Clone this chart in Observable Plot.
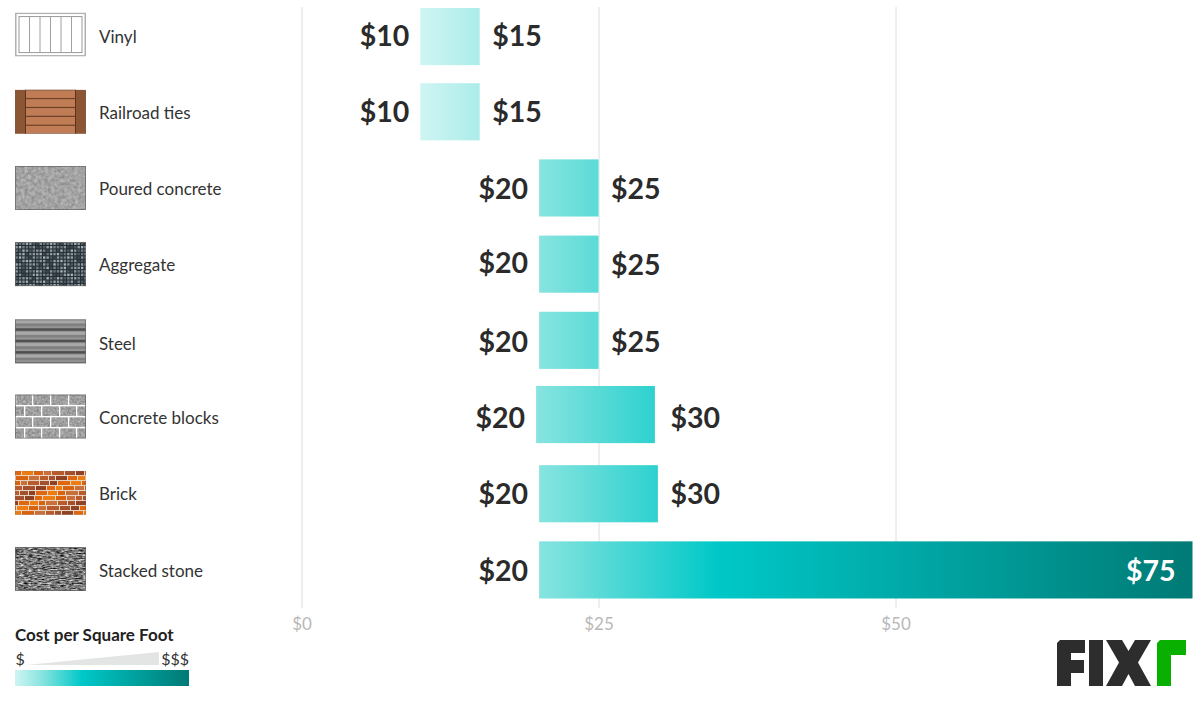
<!DOCTYPE html>
<html>
<head>
<meta charset="utf-8">
<script src="https://cdn.jsdelivr.net/npm/d3@7"></script>
<script src="https://cdn.jsdelivr.net/npm/@observablehq/plot@0.6"></script>
<style>
html,body{margin:0;padding:0;background:#fff;}
svg{display:block;}
</style>
</head>
<body>
<div id="chart"></div>
<script>
const categories = ["Vinyl","Railroad ties","Poured concrete","Aggregate","Steel","Concrete blocks","Brick","Stacked stone"];
const lowCosts  = [10,10,20,20,20,20,20,20];
const highCosts = [15,15,25,25,25,30,30,75];
const tickValues = [0,25,50];
const gradientValues = [10,20,35,75];
const gradientColors = ["#cff5f3","#88e4df","#00c8c8","#007a75"];
const legendTitle = "Cost per Square Foot";
const legendLow = "$";
const legendHigh = "$$$";

const rows = categories.map((name,i)=>({name,low:lowCosts[i],high:highCosts[i]}));
const money = d=>"$"+d;
const ink = "#2b2b2b";
// the reference's items sit slightly off an even grid
const barShiftX = [0,0,0,0,0,-3,0,0];
const barShiftY = [0,-1,-1,-1,-1,-3,0,0];
const nameShiftY = [0,0,0,0,3,1,0,1];
const lowShiftY = [0,0,0,-2,1,1,1,1];
const highShiftY = [0,0,0,0,1,1,1,1];
const valueFont = {fontSize:28.5,fontWeight:700,lineAnchor:"middle"};

const plot = Plot.plot({
  width:1200, height:701,
  marginLeft:0, marginRight:0, marginTop:7, marginBottom:93,
  style:{fontFamily:"Lato, sans-serif", background:"#fff"},
  x:{domain:[0,75], range:[301.5,1192.5]},
  y:{type:"band", domain:categories, range:[8,598.5], paddingInner:0.25, paddingOuter:0, round:false},
  marks:[
    Plot.ruleX(tickValues,{stroke:"#dedede",strokeWidth:1}),
    ...rows.map((r,i)=>Plot.barX([r],{x1:"low",x2:"high",y:"name",fill:"url(#barGradient)",dx:barShiftX[i],dy:barShiftY[i]})),
    Plot.axisX({ticks:tickValues,tickFormat:money,tickSize:0,tickPadding:9,label:null,fontSize:17,color:"#b8b8b8"}),
    Plot.axisY({ticks:[],label:null,tickSize:0}),
    ...rows.flatMap((r,i)=>[
      Plot.text([r],{y:"name",text:"name",frameAnchor:"left",textAnchor:"start",dx:98.5,dy:nameShiftY[i],fontSize:17,fill:"#333",lineAnchor:"middle"}),
      Plot.text([r],{x:"low",y:"name",text:d=>money(d.low),textAnchor:"end",dx:-11.5+barShiftX[i],dy:lowShiftY[i],fill:ink,...valueFont}),
      r.high<75
        ? Plot.text([r],{x:"high",y:"name",text:d=>money(d.high),textAnchor:"start",dx:12,dy:highShiftY[i],fill:ink,...valueFont})
        : Plot.text([r],{x:"high",y:"name",text:d=>money(d.high),textAnchor:"end",dx:-17.5,dy:highShiftY[i],fill:"#fff",...valueFont})
    ])
  ]
});
document.getElementById("chart").append(plot);

const svg = d3.select(plot);
const xs = plot.scale("x"), ys = plot.scale("y");
const defs = svg.insert("defs",":first-child");

// Gradient running along the x scale, shared by all the bars
const span = gradientValues[gradientValues.length-1]-gradientValues[0];
function addStops(g){
  gradientValues.forEach((v,i)=>g.append("stop").attr("offset",(v-gradientValues[0])/span).attr("stop-color",gradientColors[i]));
}
addStops(defs.append("linearGradient").attr("id","barGradient").attr("gradientUnits","userSpaceOnUse")
  .attr("x1",xs.apply(gradientValues[0])).attr("x2",xs.apply(75)).attr("y1",0).attr("y2",0));
addStops(defs.append("linearGradient").attr("id","legendGradient"));

function noise(id,freq,k,base,octaves){
  const f = defs.append("filter").attr("id",id).attr("x",0).attr("y",0).attr("width","100%").attr("height","100%").attr("color-interpolation-filters","sRGB");
  f.append("feTurbulence").attr("type","fractalNoise").attr("baseFrequency",freq).attr("numOctaves",octaves).attr("seed",4);
  const o = base-k/2;
  f.append("feColorMatrix").attr("type","matrix").attr("values",`${k} 0 0 0 ${o} ${k} 0 0 0 ${o} ${k} 0 0 0 ${o} 0 0 0 0 1`);
}
noise("nConcrete","0.3",0.3,0.64,4);
noise("nBlock","0.45",0.35,0.62,3);
noise("nStone","0.22 0.8",1.25,0.47,3);

const W=71,H=44;
const painters = [
  s=>{ // vinyl
    s.append("rect").attr("x",0.75).attr("y",0.75).attr("width",W-1.5).attr("height",H-1.5).attr("fill","#fff").attr("stroke","#b0b0b0").attr("stroke-width",1.5);
    s.append("rect").attr("x",4).attr("y",4).attr("width",W-8).attr("height",H-8).attr("fill","none").attr("stroke","#999");
    d3.range(1,6).forEach(i=>s.append("line").attr("x1",4+i*10.5).attr("x2",4+i*10.5).attr("y1",4).attr("y2",H-4).attr("stroke","#a0a0a0"));
  },
  s=>{ // railroad ties
    s.append("rect").attr("width",W).attr("height",H).attr("fill","#c07c55");
    d3.range(0,6).forEach(i=>s.append("rect").attr("x",10).attr("width",51).attr("y",i*8.9-0.7).attr("height",1.2).attr("fill","#6e4228"));
    [[0,11],[60,11]].forEach(([x,w])=>{
      s.append("rect").attr("x",x).attr("width",w).attr("height",H).attr("fill","#8c5634");
      s.append("rect").attr("x",x===0?10:60).attr("width",1).attr("height",H).attr("fill","#5c3520");
    });
  },
  s=>{ s.append("rect").attr("width",W).attr("height",H).attr("fill","#aaa").attr("filter","url(#nConcrete)"); },
  s=>{ // aggregate
    s.append("rect").attr("width",W).attr("height",H).attr("fill","#262e33");
    const tones=["#87949c","#4d5a62","#a2afb5","#66747c","#3c474e","#8f9ca3","#72808a"];
    for(let r=0;r<13;r++)for(let c=0;c<21;c++)
      s.append("rect").attr("x",c*3.45+0.4).attr("y",r*3.45+0.4).attr("width",2.4).attr("height",2.4).attr("fill",tones[(r*5+c*3+(r*c)%4)%7]);
  },
  s=>{ // steel
    s.append("rect").attr("width",W).attr("height",H).attr("fill","#8b8b8b");
    d3.range(0,4).forEach(i=>{
      const y=i*11.4;
      s.append("rect").attr("y",y+1).attr("width",W).attr("height",3.2).attr("fill","#a8a8a8");
      s.append("rect").attr("y",y+4.2).attr("width",W).attr("height",2.6).attr("fill","#808080");
      s.append("rect").attr("y",y+6.8).attr("width",W).attr("height",2.2).attr("fill","#939393");
      s.append("rect").attr("y",y+9).attr("width",W).attr("height",2.4).attr("fill","#4f4f4f");
    });
  },
  s=>{ // concrete blocks
    s.append("rect").attr("width",W).attr("height",H).attr("fill","#a8a8a8").attr("filter","url(#nBlock)");
    [11,22,33].forEach(y=>s.append("rect").attr("y",y-0.6).attr("width",W).attr("height",1.4).attr("fill","#fff"));
    [0,1,2,3].forEach(r=>{
      const xs0 = r%2 ? [9,26,44,61] : [17,35,53,0];
      xs0.forEach(x=>s.append("rect").attr("x",x).attr("y",r*11).attr("width",1.3).attr("height",11).attr("fill","#fff"));
    });
  },
  s=>{ // brick
    s.append("rect").attr("width",W).attr("height",H).attr("fill","#e9d8c6");
    const tones=["#e0660f","#a4502e","#c9703a","#ed7d12","#8f4223","#b85a2c","#d9620f"];
    for(let r=0;r<9;r++){
      let x=-((r*7)%11), n=r*3;
      while(x<W){
        const w=6+(n*5)%7;
        s.append("rect").attr("x",x).attr("y",r*5+0.3).attr("width",w).attr("height",4).attr("fill",tones[(n*3+r)%7]);
        x+=w+1; n++;
      }
    }
  },
  s=>{ s.append("rect").attr("width",W).attr("height",H).attr("fill","#777").attr("filter","url(#nStone)"); }
];
const swatchOffset = [-1,0,0,0,1,0,0,0];
categories.forEach((c,i)=>{
  const cy = ys.apply(c)+ys.bandwidth/2 + swatchOffset[i];
  const s = svg.append("svg").attr("x",15).attr("y",cy-1-H/2).attr("width",W).attr("height",H).attr("viewBox",`0 0 ${W} ${H}`).attr("aria-label",c+" swatch");
  painters[i](s);
  if(i!==0) s.append("rect").attr("x",0.4).attr("y",0.4).attr("width",W-0.8).attr("height",H-0.8).attr("fill","none").attr("stroke","#666").attr("stroke-width",0.8).attr("opacity",i===1||i===6?0.3:0.9);
});

// Legend
const leg = svg.append("g").attr("font-family","Lato, sans-serif").attr("text-anchor","start");
leg.append("text").attr("x",15).attr("y",641).attr("font-size",17).attr("font-weight",700).attr("fill","#222").text(legendTitle);
leg.append("text").attr("x",15.5).attr("y",665).attr("font-size",16).attr("fill","#333").text(legendLow);
leg.append("text").attr("x",189).attr("y",665).attr("font-size",16).attr("text-anchor","end").attr("fill","#333").text(legendHigh);
leg.append("path").attr("d","M26 665L159 652V665Z").attr("fill","#e3e4e4");
leg.append("rect").attr("x",15).attr("y",670).attr("width",174).attr("height",16).attr("fill","url(#legendGradient)");

// Logo
const logo = svg.append("g").attr("aria-label","FIXR");
logo.append("path").attr("fill","#2d2d2d").attr("d",
  "M1060 640H1085V653H1071V660H1084V673H1071V686H1057V643Z"+
  "M1089 640H1103V686H1089Z"+
  "M1106 640H1122L1128.500 651L1135 640H1151L1138 662.500L1151 686H1135L1128.500 674L1122 686H1106L1119 662.500Z");
logo.append("path").attr("fill","#0ab000").attr("d","M1160 640H1186V655H1171V686H1157V643Z");
</script>
</body>
</html>
